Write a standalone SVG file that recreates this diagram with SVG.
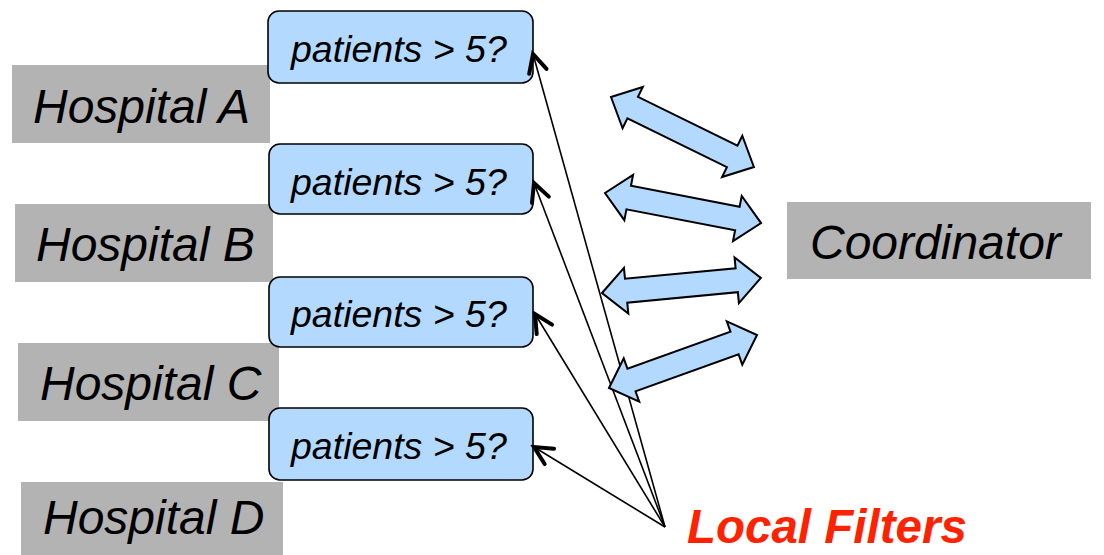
<svg xmlns="http://www.w3.org/2000/svg" width="1104" height="555" viewBox="0 0 1104 555">
<style>
.gray{fill:#b3b3b3}
.lbl{font-family:"Liberation Sans",Arial,sans-serif;font-style:italic;font-size:48px;fill:#000}
.flt{fill:#b3d9ff;stroke:#000;stroke-width:1.6}
.ftx{font-family:"Liberation Sans",Arial,sans-serif;font-style:italic;font-size:37.5px;fill:#000}
.dbl{fill:#b3d9ff;stroke:#000;stroke-width:2;stroke-linejoin:miter}
.ln{fill:none;stroke:#000;stroke-width:1.6;marker-end:url(#open)}
.red{font-family:"Liberation Sans",Arial,sans-serif;font-style:italic;font-weight:bold;font-size:47.5px;fill:#ff2200}
</style>
<defs>
<marker id="open" markerUnits="userSpaceOnUse" viewBox="-22 -12 26 24" refX="0" refY="0" markerWidth="26" markerHeight="24" orient="auto">
<path d="M-18,-9 L0,0 L-18,9" fill="none" stroke="#000" stroke-width="4" stroke-linecap="round" stroke-linejoin="miter"/>
</marker>
<polygon id="darrow" points="0,0 24,-23 24,-12 134,-12 134,-23 158,0 134,23 134,12 24,12 24,23"/>
</defs>

<g id="hospitalA"><rect class="gray" x="12" y="65" width="258" height="78"/><text class="lbl" x="33" y="123">Hospital A</text></g>
<g id="hospitalB"><rect class="gray" x="15" y="204" width="258" height="78"/><text class="lbl" x="36" y="261">Hospital B</text></g>
<g id="hospitalC"><rect class="gray" x="18" y="343" width="261" height="78"/><text class="lbl" x="40" y="400">Hospital C</text></g>
<g id="hospitalD"><rect class="gray" x="21" y="482" width="262" height="78"/><text class="lbl" x="43" y="534">Hospital D</text></g>
<g id="coordinator"><rect class="gray" x="787" y="202" width="304" height="77"/><text class="lbl" x="810" y="259">Coordinator</text></g>

<g id="filter1"><rect class="flt" x="268" y="11" width="265" height="72" rx="11"/><text class="ftx" x="291" y="62">patients &gt; 5?</text></g>
<g id="filter2"><rect class="flt" x="269" y="144" width="264" height="70" rx="11"/><text class="ftx" x="291" y="195">patients &gt; 5?</text></g>
<g id="filter3"><rect class="flt" x="269" y="277" width="264" height="70" rx="11"/><text class="ftx" x="291" y="327">patients &gt; 5?</text></g>
<g id="filter4"><rect class="flt" x="269" y="408" width="264" height="72" rx="11"/><text class="ftx" x="291" y="459">patients &gt; 5?</text></g>

<g id="localfilters"><text class="red" x="687" y="543">Local Filters</text></g>

<g id="connectors">
<line class="ln" x1="665" y1="527" x2="533" y2="54"/>
<line class="ln" x1="665" y1="527" x2="534" y2="183"/>
<line class="ln" x1="665" y1="527" x2="535" y2="314"/>
<line class="ln" x1="665" y1="527" x2="534" y2="447"/>
<use href="#darrow" class="dbl" transform="translate(611,97) rotate(26.1) scale(1.007,1)"/>
<use href="#darrow" class="dbl" transform="translate(605,193) rotate(10.9) scale(1.006,1)"/>
<use href="#darrow" class="dbl" transform="translate(602,293) rotate(-5.4) scale(1.01,1)"/>
<use href="#darrow" class="dbl" transform="translate(609,388) rotate(-19.7) scale(0.995,1)"/>
</g>
</svg>
